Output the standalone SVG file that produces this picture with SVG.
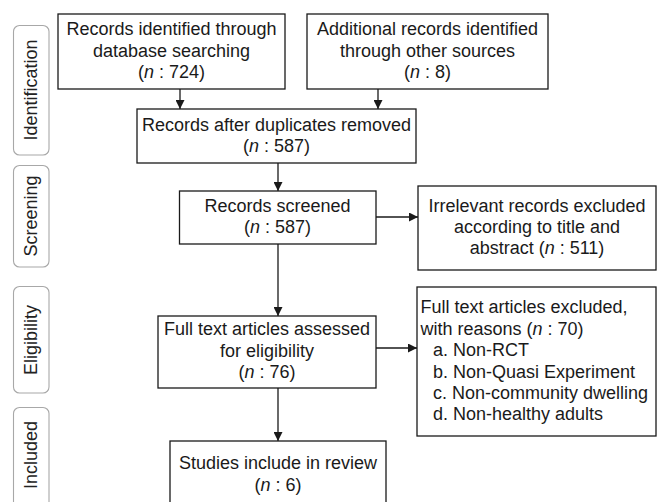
<svg xmlns="http://www.w3.org/2000/svg" width="659" height="502" viewBox="0 0 659 502">
<defs>
<style>
.box{fill:#fff;stroke:#1a1a1a;stroke-width:1.3}
.side{fill:#fff;stroke:#a8a8a8;stroke-width:1.1}
text{font-family:"Liberation Sans",Arial,sans-serif;font-size:18px;fill:#1a1a1a}
.c{text-anchor:middle}
.sl{text-anchor:middle;fill:#222}
.conn{stroke:#1a1a1a;stroke-width:1.3;fill:none;marker-end:url(#ah)}
</style>
<marker id="ah" viewBox="0 0 10 10" refX="10" refY="5" markerWidth="9" markerHeight="9" markerUnits="userSpaceOnUse" orient="auto">
<path d="M0,0 L10,5 L0,10 z" fill="#1a1a1a"/>
</marker>
</defs>
<rect width="659" height="502" fill="#fff"/>

<g id="phase-identification">
<rect class="side" x="13.5" y="25.5" width="35.5" height="129.5" rx="6"/>
<text class="sl" transform="translate(37 90) rotate(-90)">Identification</text>
</g>
<g id="phase-screening">
<rect class="side" x="13.5" y="165.5" width="35.5" height="101.5" rx="6"/>
<text class="sl" transform="translate(37 216) rotate(-90)">Screening</text>
</g>
<g id="phase-eligibility">
<rect class="side" x="13.5" y="286.5" width="35.5" height="106.5" rx="6"/>
<text class="sl" transform="translate(37 340) rotate(-90)">Eligibility</text>
</g>
<g id="phase-included">
<rect class="side" x="13.5" y="407.5" width="35.5" height="120" rx="6"/>
<text class="sl" transform="translate(37 455) rotate(-90)">Included</text>
</g>

<g id="connectors">
<line class="conn" x1="180" y1="89" x2="180" y2="109"/>
<line class="conn" x1="378" y1="89" x2="378" y2="109"/>
<line class="conn" x1="278" y1="163" x2="278" y2="191"/>
<line class="conn" x1="376" y1="217" x2="418" y2="217"/>
<line class="conn" x1="278" y1="244" x2="278" y2="316"/>
<line class="conn" x1="376" y1="348" x2="417" y2="348"/>
<line class="conn" x1="278" y1="388" x2="278" y2="441"/>
</g>

<g id="n-database">
<rect class="box" x="58" y="14" width="227" height="75"/>
<text class="c" x="171.5" y="35">Records identified through</text>
<text class="c" x="171.5" y="57">database searching</text>
<text class="c" x="171.5" y="78">(<tspan font-style="italic">n</tspan> : 724)</text>
</g>
<g id="n-other">
<rect class="box" x="307" y="14" width="241" height="75"/>
<text class="c" x="427.5" y="35">Additional records identified</text>
<text class="c" x="427.5" y="57">through other sources</text>
<text class="c" x="427.5" y="78">(<tspan font-style="italic">n</tspan> : 8)</text>
</g>
<g id="n-duplicates">
<rect class="box" x="137" y="109" width="279" height="54"/>
<text class="c" x="276.5" y="131">Records after duplicates removed</text>
<text class="c" x="276.5" y="152">(<tspan font-style="italic">n</tspan> : 587)</text>
</g>
<g id="n-screened">
<rect class="box" x="179.5" y="191" width="196.5" height="53"/>
<text class="c" x="277.5" y="212">Records screened</text>
<text class="c" x="277.5" y="233">(<tspan font-style="italic">n</tspan> : 587)</text>
</g>
<g id="n-irrelevant">
<rect class="box" x="418" y="186" width="238" height="84"/>
<text class="c" x="537" y="212">Irrelevant records excluded</text>
<text class="c" x="537" y="233">according to title and</text>
<text class="c" x="537" y="254">abstract (<tspan font-style="italic">n</tspan> : 511)</text>
</g>
<g id="n-fulltext">
<rect class="box" x="158" y="316" width="218" height="72"/>
<text class="c" x="267" y="335">Full text articles assessed</text>
<text class="c" x="267" y="357">for eligibility</text>
<text class="c" x="267" y="378">(<tspan font-style="italic">n</tspan> : 76)</text>
</g>
<g id="n-excluded">
<rect class="box" x="417" y="287" width="239" height="149"/>
<text x="420.5" y="313">Full text articles excluded,</text>
<text x="420.5" y="335">with reasons (<tspan font-style="italic">n</tspan> : 70)</text>
<text x="433" y="356">a. Non-RCT</text>
<text x="433" y="378">b. Non-Quasi Experiment</text>
<text x="433" y="399">c. Non-community dwelling</text>
<text x="433" y="420">d. Non-healthy adults</text>
</g>
<g id="n-studies">
<rect class="box" x="170" y="441" width="216" height="80"/>
<text class="c" x="278" y="469">Studies include in review</text>
<text class="c" x="278" y="491">(<tspan font-style="italic">n</tspan> : 6)</text>
</g>
</svg>
